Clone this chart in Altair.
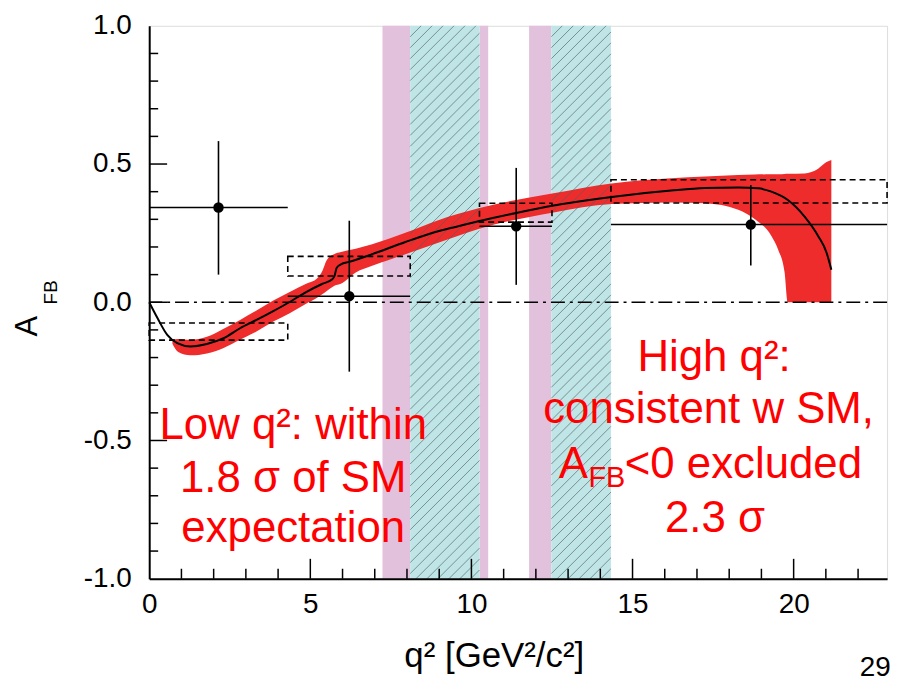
import altair as alt
import pandas as pd
import numpy as np

W, H = 742, 556
XMAX = 22.9

# SM prediction (black curve)
sm_x = [0.0, 0.26, 0.56, 0.87, 1.28, 1.79, 2.31, 2.82, 3.33, 3.85, 4.36, 4.87, 5.38, 5.67,
        5.75, 5.82, 5.95, 6.21, 6.92, 7.95, 8.97, 9.59, 10.22, 11.39, 12.55, 14.35, 16.2,
        17.25, 18.28, 18.9, 19.31, 19.82, 20.34, 20.76, 21.02, 21.17]
sm_y = [0.0, -0.058, -0.118, -0.148, -0.160, -0.151, -0.130, -0.094, -0.064, -0.032, 0.001,
        0.037, 0.067, 0.082, 0.095, 0.125, 0.137, 0.146, 0.174, 0.218, 0.257, 0.275, 0.293,
        0.323, 0.350, 0.381, 0.404, 0.413, 0.415, 0.412, 0.400, 0.370, 0.310, 0.240, 0.180, 0.118]

# SM uncertainty band (red)
band_x = [0.72, 0.9, 1.28, 1.79, 2.31, 2.82, 3.33, 3.85, 4.36, 4.87, 5.2, 5.38, 5.5, 5.75,
          5.95, 6.41, 6.92, 7.95, 8.97, 10.22, 12.55, 14.35, 16.2, 17.25, 18.28, 18.8, 19.31,
          19.52, 19.72, 19.82, 20.34, 20.76, 21.02, 21.17]
band_lo = [-0.150, -0.180, -0.192, -0.185, -0.165, -0.136, -0.106, -0.070, -0.040, -0.005,
           0.015, 0.030, 0.040, 0.060, 0.067, 0.108, 0.132, 0.174, 0.215, 0.265, 0.325, 0.355,
           0.361, 0.358, 0.335, 0.300, 0.240, 0.190, 0.108, 0.0, 0.0, 0.0, 0.0, 0.0]
band_hi = [-0.135, -0.133, -0.136, -0.125, -0.096, -0.064, -0.030, 0.006, 0.037, 0.067,
           0.085, 0.115, 0.150, 0.175, 0.182, 0.194, 0.210, 0.251, 0.297, 0.340, 0.394, 0.430,
           0.449, 0.455, 0.460, 0.462, 0.463, 0.463, 0.464, 0.465, 0.466, 0.483, 0.507, 0.515]

# Measurements
pt_x = [2.15, 6.21, 11.39, 18.67]
pt_y = [0.343, 0.022, 0.275, 0.281]
pt_xlo = [0.0, 4.3, 10.25, 14.33]
pt_xhi = [4.3, 8.1, 12.5, 22.9]
pt_ylo = [0.10, -0.251, 0.063, 0.133]
pt_yhi = [0.583, 0.295, 0.486, 0.424]

# SM bin averages (dashed boxes)
box_x0 = [0.0, 4.3, 10.25, 14.33]
box_x1 = [4.3, 8.1, 12.5, 22.9]
box_y0 = [-0.137, 0.095, 0.290, 0.359]
box_y1 = [-0.075, 0.166, 0.358, 0.443]

# Vetoed charmonium regions
pink_x0 = [7.24, 10.25, 11.79]
pink_x1 = [8.1, 10.52, 12.48]
cyan_x0 = [8.1, 12.48]
cyan_x1 = [10.25, 14.33]

x_ticks_major = [5, 10, 15, 20]
x_ticks_minor = [v for v in range(1, 23) if v % 5 != 0]
y_ticks_major = [-0.5, 0.0, 0.5]
y_ticks_minor = [round(-1 + 0.1 * i, 1) for i in range(1, 20) if i % 5 != 0]

sm = pd.DataFrame({"x": sm_x, "y": sm_y, "o": range(len(sm_x))})
band = pd.DataFrame({"x": band_x, "lo": band_lo, "hi": band_hi})
pts = pd.DataFrame({"x": pt_x, "y": pt_y, "xlo": pt_xlo, "xhi": pt_xhi, "ylo": pt_ylo, "yhi": pt_yhi})
boxes = pd.DataFrame({"x0": box_x0, "x1": box_x1, "y0": box_y0, "y1": box_y1})
pink = pd.DataFrame({"x0": pink_x0, "x1": pink_x1})
cyan = pd.DataFrame({"x0": cyan_x0, "x1": cyan_x1})

# hatch lines for the cyan regions (decoration, 45 degrees on screen)
k = (H / 2.0) / (W / XMAX)
sp = 0.34
rows = []
for xa, xb in zip(cyan_x0, cyan_x1):
    for x0 in np.arange(xa - 2 * k, xb, sp):
        xs = max(xa, x0)
        xe = min(xb, x0 + 2 * k)
        if xe <= xs:
            continue
        rows.append({"xs": xs, "xe": xe, "ys": -1 + (xs - x0) / k, "ye": -1 + (xe - x0) / k})
hatch = pd.DataFrame(rows)

FONT = "Liberation Sans"
xscale = alt.Scale(domain=[0, XMAX], nice=False, zero=False)
yscale = alt.Scale(domain=[-1, 1], nice=False, zero=False)
xaxis = alt.Axis(values=[0, 5, 10, 15, 20], format="d", tickSize=0, labelFontSize=28,
                 labelPadding=12, labelFlush=False, labelOverlap=False, grid=False,
                 domainColor="black", domainWidth=2, title=None, zindex=1,
                 labelFont=FONT, labelColor="black")
yaxis = alt.Axis(values=[-1, -0.5, 0, 0.5, 1], format=".1f", tickSize=0, labelFontSize=28,
                 labelPadding=18, labelFlush=False, labelOverlap=False, grid=False,
                 labelExpr="replace(datum.label, '\u2212', '-')",
                 domainColor="black", domainWidth=2, title=None, zindex=1,
                 labelFont=FONT, labelColor="black")


def X(f):
    return alt.X(f, type="quantitative", scale=xscale, axis=xaxis)


def Y(f):
    return alt.Y(f, type="quantitative", scale=yscale, axis=yaxis)


pink_l = alt.Chart(pink).mark_rect(color="#e2c1dc").encode(
    x=X("x0"), x2="x1", y=alt.value(0), y2=alt.value(H))
cyan_l = alt.Chart(cyan).mark_rect(color="#bfe5e7").encode(
    x=X("x0"), x2="x1", y=alt.value(0), y2=alt.value(H))
band_l = alt.Chart(band).mark_area(color="#ee2c2c", interpolate="monotone").encode(
    x=X("x"), y=Y("lo"), y2="hi")
hatch_l = alt.Chart(hatch).mark_rule(color="#4f5f62", strokeWidth=0.8, opacity=0.8).encode(
    x=X("xs"), x2="xe", y=Y("ys"), y2="ye")
zero_l = alt.Chart(pd.DataFrame({"v": [0.0]})).mark_rule(
    color="black", strokeWidth=1.5, strokeDash=[14, 5, 3, 5]).encode(y=Y("v"))
sm_l = alt.Chart(sm).mark_line(color="black", strokeWidth=2, interpolate="monotone").encode(
    x=X("x"), y=Y("y"), order="o")
box_l = alt.Chart(boxes).mark_rect(fill="white", fillOpacity=0, stroke="black",
                                   strokeWidth=1.6, strokeDash=[6, 4]).encode(
    x=X("x0"), x2="x1", y=Y("y0"), y2="y1")
xerr_l = alt.Chart(pts).mark_rule(color="black", strokeWidth=1.6).encode(
    x=X("xlo"), x2="xhi", y=Y("y"))
yerr_l = alt.Chart(pts).mark_rule(color="black", strokeWidth=1.6).encode(
    x=X("x"), y=Y("ylo"), y2="yhi")
pt_l = alt.Chart(pts).mark_circle(color="black", size=110, opacity=1).encode(
    x=X("x"), y=Y("y"))

xt_major = alt.Chart(pd.DataFrame({"v": x_ticks_major})).mark_rule(color="black", strokeWidth=1.5).encode(
    x=X("v"), y=alt.value(H), y2=alt.value(H - 20))
xt_minor = alt.Chart(pd.DataFrame({"v": x_ticks_minor})).mark_rule(color="black", strokeWidth=1.5).encode(
    x=X("v"), y=alt.value(H), y2=alt.value(H - 10))
yt_major = alt.Chart(pd.DataFrame({"v": y_ticks_major})).mark_rule(color="black", strokeWidth=1.5).encode(
    y=Y("v"), x=alt.value(0), x2=alt.value(18))
yt_minor = alt.Chart(pd.DataFrame({"v": y_ticks_minor})).mark_rule(color="black", strokeWidth=1.5).encode(
    y=Y("v"), x=alt.value(0), x2=alt.value(9))

# red annotations
ann_c = pd.DataFrame({
    "t": ["Low q\u00b2: within", "1.8 \u03c3 of SM", "expectation",
          "High q\u00b2:", "consistent w SM,", "2.3 \u03c3"],
    "x": [4.47, 4.47, 4.47, 17.53, 17.36, 17.56],
    "y": [-0.496, -0.686, -0.868, -0.250, -0.435, -0.832],
})
ann_l = pd.DataFrame({"t": ["A", "<0 excluded"], "x": [12.71, 14.76], "y": [-0.636, -0.636]})
ann_s = pd.DataFrame({"t": ["FB"], "x": [13.63], "y": [-0.667]})

txt_c = alt.Chart(ann_c).mark_text(font=FONT, fontSize=44, color="#ff0000", align="center",
                                   baseline="alphabetic").encode(x=X("x"), y=Y("y"), text="t")
txt_l = alt.Chart(ann_l).mark_text(font=FONT, fontSize=44, color="#ff0000", align="left",
                                   baseline="alphabetic").encode(x=X("x"), y=Y("y"), text="t")
txt_s = alt.Chart(ann_s).mark_text(font=FONT, fontSize=29, color="#ff0000", align="left",
                                   baseline="alphabetic").encode(x=X("x"), y=Y("y"), text="t")

# axis titles and page number
one = pd.DataFrame({"a": [0]})
ytitle_a = alt.Chart(one).mark_text(font=FONT, fontSize=31, angle=270, align="center",
                                    baseline="alphabetic", color="black").encode(
    x=alt.value(-113), y=alt.value(302), text=alt.value("A"))
ytitle_fb = alt.Chart(one).mark_text(font=FONT, fontSize=19, angle=270, align="center",
                                     baseline="alphabetic", color="black").encode(
    x=alt.value(-93), y=alt.value(268), text=alt.value("FB"))
xtitle = alt.Chart(one).mark_text(font=FONT, fontSize=35, align="center",
                                  baseline="alphabetic", color="black").encode(
    x=alt.value(347), y=alt.value(645), text=alt.value("q\u00b2 [GeV\u00b2/c\u00b2]"))
pageno = alt.Chart(one).mark_text(font=FONT, fontSize=28, align="center",
                                  baseline="alphabetic", color="black").encode(
    x=alt.value(730), y=alt.value(654), text=alt.value("29"))

chart = alt.layer(
    pink_l, cyan_l, band_l, hatch_l, zero_l, sm_l, box_l, xerr_l, yerr_l, pt_l,
    xt_major, xt_minor, yt_major, yt_minor, txt_c, txt_l, txt_s,
    ytitle_a, ytitle_fb, xtitle, pageno,
).properties(
    width=W, height=H,
    autosize=alt.AutoSizeParams(type="none"),
    padding={"left": 142, "top": 16, "right": 14, "bottom": 110},
).configure_view(stroke="black", strokeWidth=2).configure(background="white")

chart.save("out.html", embed_options={"renderer": "svg", "actions": False})
